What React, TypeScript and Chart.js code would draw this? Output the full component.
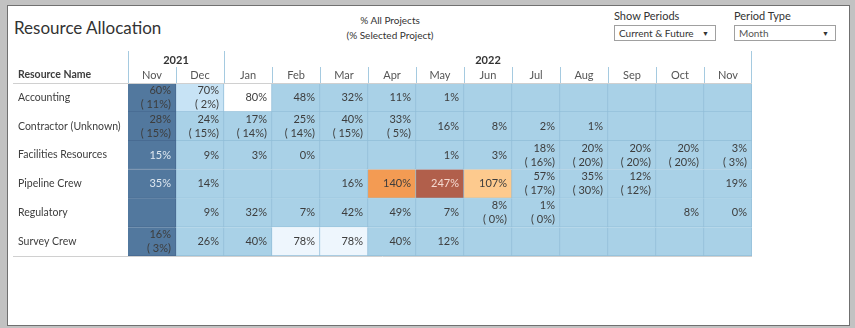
import React, { useEffect, useRef } from "react";
import { Chart, registerables } from "chart.js";

Chart.register(...registerables);

// ---------- DATA ----------
const resources = [
  "Accounting",
  "Contractor (Unknown)",
  "Facilities Resources",
  "Pipeline Crew",
  "Regulatory",
  "Survey Crew",
];
const months = ["Nov", "Dec", "Jan", "Feb", "Mar", "Apr", "May", "Jun", "Jul", "Aug", "Sep", "Oct", "Nov"];
const yearLabels = ["2021", "2022"];
const yearSpans = [2, 11];

// % All Projects (null = empty)
const accountingAll = [60, 70, 80, 48, 32, 11, 1, null, null, null, null, null, null];
const contractorAll = [28, 24, 17, 25, 40, 33, 16, 8, 2, 1, null, null, null];
const facilitiesAll = [15, 9, 3, 0, null, null, 1, 3, 18, 20, 20, 20, 3];
const pipelineAll = [35, 14, null, null, 16, 140, 247, 107, 57, 35, 12, null, 19];
const regulatoryAll = [null, 9, 32, 7, 42, 49, 7, 8, 1, null, null, 8, 0];
const surveyAll = [16, 26, 40, 78, 78, 40, 12, null, null, null, null, null, null];

// (% Selected Project)
const accountingSel = [11, 2, null, null, null, null, null, null, null, null, null, null, null];
const contractorSel = [15, 15, 14, 14, 15, 5, null, null, null, null, null, null, null];
const facilitiesSel = [null, null, null, null, null, null, null, null, 16, 20, 20, 20, 3];
const pipelineSel = [null, null, null, null, null, null, null, null, 17, 30, 12, null, null];
const regulatorySel = [null, null, null, null, null, null, null, 0, 0, null, null, null, null];
const surveySel = [3, null, null, null, null, null, null, null, null, null, null, null, null];

const allRows = [accountingAll, contractorAll, facilitiesAll, pipelineAll, regulatoryAll, surveyAll];
const selRows = [accountingSel, contractorSel, facilitiesSel, pipelineSel, regulatorySel, surveySel];

// ---------- STYLE HELPERS ----------
const FONT = "Lato, 'Noto Sans', sans-serif";

function cellColor(v: number | null, col: number): string {
  if (col === 0) return "#52789e";
  if (v === null || v < 65) return "#a9d1e7";
  if (v < 75) return "#c7e3f5";
  if (v < 79) return "#eef6fd";
  if (v <= 100) return "#ffffff";
  if (v < 120) return "#fdca8e";
  if (v < 200) return "#f39b53";
  return "#b15f4b";
}
function borderColor(col: number): string {
  return col === 0 ? "#47698f" : "#92bed8";
}
function textColor(v: number | null, sel: number | null, col: number): string {
  if (col === 0 && sel === null) return "#dfe8f1";
  if (v !== null && v >= 200) return "#f5d9d0";
  return "#3d3d3d";
}

const tablePlugin = {
  id: "tableText",
  afterDatasetsDraw(chart: any) {
    const ctx: CanvasRenderingContext2D = chart.ctx;
    const xs = chart.scales.x;
    const ys = chart.scales.y;
    const area = chart.chartArea;
    ctx.save();

    // cell texts
    chart.data.datasets.forEach((ds: any, c: number) => {
      const meta = chart.getDatasetMeta(c);
      meta.data.forEach((el: any, r: number) => {
        const v = allRows[r][c];
        const s = selRows[r][c];
        if (v === null) return;
        const p = el.getProps(["x", "y"], true);
        ctx.font = `11px ${FONT}`;
        ctx.textAlign = "right";
        ctx.textBaseline = "middle";
        ctx.fillStyle = textColor(v, s, c);
        const tx = p.x - 5;
        if (s === null) {
          ctx.fillText(`${v}%`, tx, p.y);
        } else {
          ctx.fillText(`${v}%`, tx, p.y - 7);
          ctx.fillText(`( ${s}%)`, tx, p.y + 7);
        }
      });
    });

    // row labels
    ctx.font = `10.5px ${FONT}`;
    ctx.textAlign = "left";
    ctx.textBaseline = "middle";
    ctx.fillStyle = "#3d3d3d";
    resources.forEach((name, i) => {
      ctx.fillText(name, 18, ys.getPixelForValue(i));
    });

    // header: column title
    ctx.font = `bold 10.5px ${FONT}`;
    ctx.fillText("Resource Name", 18, 75);

    // month labels
    ctx.font = `11px ${FONT}`;
    ctx.textAlign = "center";
    ctx.fillStyle = "#555555";
    months.forEach((m, i) => {
      ctx.fillText(m, xs.getPixelForValue(i + 0.5), 75);
    });

    // year labels
    ctx.font = `bold 11px ${FONT}`;
    ctx.fillStyle = "#333333";
    let start = 0;
    const yearEdges: number[] = [0];
    yearLabels.forEach((y, i) => {
      const end = start + yearSpans[i];
      const cx = (xs.getPixelForValue(start) + xs.getPixelForValue(end)) / 2;
      ctx.fillText(y, cx, 60);
      yearEdges.push(end);
      start = end;
    });

    // header lines
    ctx.strokeStyle = "#a5cae0";
    ctx.lineWidth = 1;
    for (let i = 1; i < months.length; i++) {
      const px = Math.round(xs.getPixelForValue(i)) + 0.5;
      ctx.beginPath();
      ctx.moveTo(px, 67);
      ctx.lineTo(px, area.top);
      ctx.stroke();
    }
    yearEdges.forEach((e) => {
      const px = Math.round(xs.getPixelForValue(e)) + 0.5 - (e === months.length ? 1 : 0);
      ctx.beginPath();
      ctx.moveTo(px, 51);
      ctx.lineTo(px, area.top);
      ctx.stroke();
    });

    // top and bottom rules
    ctx.strokeStyle = "#d0d0d0";
    [area.top, area.bottom].forEach((yy: number) => {
      const py = Math.round(yy) + 0.5;
      ctx.beginPath();
      ctx.moveTo(13, py);
      ctx.lineTo(area.right, py);
      ctx.stroke();
    });

    ctx.restore();
  },
};

export default function App() {
  const canvasRef = useRef<HTMLCanvasElement>(null);

  useEffect(() => {
    const canvas = canvasRef.current;
    if (!canvas) return;
    const datasets = months.map((m, c) => ({
      label: `${m}-${c}`,
      data: resources.map(() => 1),
      backgroundColor: resources.map((_, r) => cellColor(allRows[r][c], c)),
      borderColor: borderColor(c),
      borderWidth: { top: 0, left: 0, right: 1, bottom: 1 },
      borderSkipped: false as any,
      categoryPercentage: 1,
      barPercentage: 1,
    }));
    const chart = new Chart(canvas, {
      type: "bar",
      data: { labels: resources, datasets },
      options: {
        indexAxis: "y",
        animation: false,
        responsive: false,
        maintainAspectRatio: false,
        events: [],
        layout: { padding: { left: 128, right: 103, top: 83, bottom: 72 } },
        plugins: { legend: { display: false }, tooltip: { enabled: false } },
        scales: {
          x: { stacked: true, min: 0, max: months.length, display: false },
          y: { stacked: true, display: false },
        },
      },
      plugins: [tablePlugin],
    });
    return () => chart.destroy();
  }, []);

  const selectStyle: React.CSSProperties = {
    position: "absolute",
    height: 16,
    width: 102,
    boxSizing: "border-box",
    border: "1px solid #a0a0a0",
    background: "#fff",
    fontSize: 10,
    lineHeight: "14px",
    paddingLeft: 4,
    color: "#333",
  };
  const arrowStyle: React.CSSProperties = {
    position: "absolute",
    right: 6,
    top: 0,
    fontSize: 7,
    color: "#333",
  };

  return (
    <div
      style={{
        position: "fixed",
        left: 0,
        top: 0,
        width: 855,
        height: 328,
        background: "#c2c2c2",
        fontFamily: FONT,
        overflow: "hidden",
      }}
    >
      <div
        style={{
          position: "absolute",
          left: 7,
          top: 5,
          width: 843,
          height: 321,
          boxSizing: "border-box",
          background: "#ffffff",
          border: "1px solid #707070",
        }}
      />
      <div
        style={{
          position: "absolute",
          left: 14,
          top: 18,
          fontSize: 17,
          lineHeight: "20px",
          color: "#333",
          whiteSpace: "nowrap",
        }}
      >
        Resource Allocation
      </div>
      <div
        style={{
          position: "absolute",
          left: 290,
          width: 200,
          top: 13,
          fontSize: 10,
          lineHeight: "15px",
          color: "#333",
          textAlign: "center",
        }}
      >
        % All Projects
        <br />
        (% Selected Project)
      </div>
      <div style={{ position: "absolute", left: 614, top: 9, fontSize: 11, lineHeight: "14px", color: "#333" }}>
        Show Periods
      </div>
      <div style={{ ...selectStyle, left: 614, top: 25 }}>
        Current &amp; Future<span style={arrowStyle}>▼</span>
      </div>
      <div style={{ position: "absolute", left: 734, top: 9, fontSize: 11, lineHeight: "14px", color: "#333" }}>
        Period Type
      </div>
      <div style={{ ...selectStyle, left: 734, top: 25, color: "#555" }}>
        Month<span style={arrowStyle}>▼</span>
      </div>
      <canvas
        ref={canvasRef}
        width={855}
        height={328}
        style={{ position: "absolute", left: 0, top: 0, width: 855, height: 328 }}
      />
    </div>
  );
}
